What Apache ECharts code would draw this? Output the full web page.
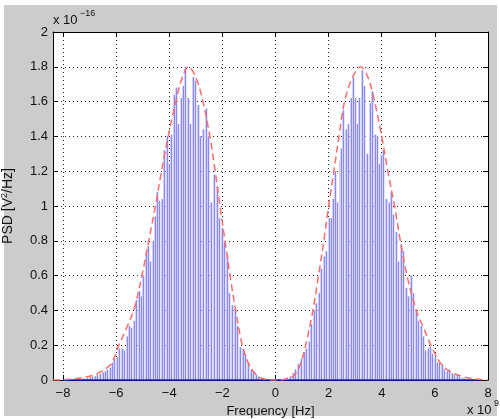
<!DOCTYPE html>
<html><head><meta charset="utf-8">
<script src="https://cdn.jsdelivr.net/npm/echarts@6/dist/echarts.min.js"></script>
<style>html,body{margin:0;padding:0;background:#fff}#c{width:500px;height:419px}</style>
</head><body><div id="c"></div>
<script>
// Frequency in units of 1e9 Hz, PSD in units of 1e-16 V^2/Hz
const stemFreq = [
 -8.0,-7.9,-7.8,-7.7,-7.6,-7.5,-7.4,-7.3,-7.2,-7.1,-7.0,-6.9,-6.8,-6.7,-6.6,-6.5,-6.42,
 -6.33,-6.24,-6.15,-6.06,-5.97,-5.88,-5.79,-5.70,-5.60,-5.51,-5.42,-5.34,-5.25,-5.15,-5.06,
 -4.97,-4.89,-4.80,-4.71,-4.62,-4.54,-4.46,-4.37,-4.28,-4.19,-4.10,-4.01,-3.92,-3.83,-3.74,
 -3.66,-3.57,-3.48,-3.39,-3.30,-3.21,-3.12,-3.03,-2.93,-2.84,-2.72,-2.62,-2.53,-2.41,-2.32,
 -2.21,-2.13,-2.03,-1.94,-1.84,-1.74,-1.63,-1.53,-1.44,-1.34,-1.24,-1.13,-1.03,-0.93,-0.84,
 -0.74,-0.65,-0.55,-0.46,-0.37,-0.28,-0.18,-0.09,0.00,
 0.09,0.18,0.27,0.35,0.45,0.54,0.66,0.75,0.85,0.95,1.06,1.16,1.25,1.35,1.45,1.54,1.64,1.73,
 1.82,1.91,2.00,2.08,2.16,2.25,2.33,2.41,2.48,2.56,2.64,2.73,2.83,2.91,3.00,3.08,3.16,3.25,
 3.35,3.44,3.54,3.63,3.73,3.81,3.89,3.98,4.06,4.16,4.26,4.35,4.44,4.54,4.63,4.73,4.81,4.92,
 5.00,5.10,5.19,5.28,5.37,5.46,5.55,5.64,5.73,5.83,5.91,6.00,6.08,6.17,6.25,6.35,6.45,6.54,
 6.63,6.73,6.83,6.92,7.02,7.11,7.20,7.30,7.40,7.50,7.60,7.70
];
const stemPsd = [
 0.002,0.002,0.003,0.003,0.004,0.005,0.006,0.007,0.009,0.012,0.016,0.02,0.022,0.03,0.035,0.045,0.05,
 0.06,0.07,0.10,0.12,0.13,0.18,0.18,0.17,0.25,0.31,0.30,0.34,0.46,0.51,0.48,
 0.60,0.74,0.77,0.68,0.80,0.94,1.08,1.03,1.04,1.32,1.40,1.24,1.41,1.64,1.68,
 1.47,1.62,1.69,1.80,1.62,1.47,1.74,1.72,1.58,1.40,1.44,1.56,1.40,1.02,1.18,
 1.11,0.93,0.87,0.79,0.72,0.50,0.43,0.41,0.31,0.19,0.18,0.15,0.10,0.06,0.05,
 0.03,0.02,0.01,0.006,0.004,0.003,0.002,0.002,0.002,
 0.002,0.003,0.005,0.01,0.015,0.02,0.04,0.06,0.09,0.12,0.16,0.18,0.22,0.32,0.40,0.44,0.50,0.64,
 0.71,0.74,0.93,0.93,1.04,1.20,1.02,1.26,1.33,1.55,1.44,1.47,1.62,1.74,1.62,1.47,1.62,1.78,
 1.69,1.30,1.59,1.66,1.41,1.40,1.24,1.29,1.32,1.04,1.02,1.08,0.95,0.85,0.68,0.78,0.74,0.53,
 0.48,0.60,0.50,0.40,0.34,0.31,0.25,0.17,0.18,0.19,0.15,0.13,0.10,0.10,0.09,0.06,0.05,0.06,
 0.04,0.03,0.03,0.02,0.012,0.01,0.008,0.006,0.005,0.004,0.003,0.002
];
const curveFreq = [
 -8.375,-8.0,-7.7,-7.4,-7.05,-6.8,-6.55,-6.3,-6.15,-5.9,-5.6,-5.3,-5.0,-4.77,-4.52,-4.29,-4.04,
 -3.75,-3.55,-3.28,-3.0,-2.73,-2.47,-2.27,-2.09,-1.9,-1.71,-1.5,-1.25,-1.03,-0.84,-0.6,-0.3,0,
 0.3,0.6,0.82,1.0,1.14,1.41,1.62,1.82,2.0,2.2,2.39,2.6,2.9,3.2,3.48,3.73,4.0,4.23,4.48,4.7,
 4.95,5.3,5.6,5.85,6.2,6.55,7.05,7.5,8.0
];
const curvePsd = [
 0,0.001,0.005,0.01,0.02,0.03,0.05,0.075,0.1,0.2,0.3,0.42,0.62,0.8,1.0,1.2,1.4,
 1.6,1.72,1.8,1.74,1.6,1.4,1.2,1.0,0.8,0.6,0.4,0.2,0.1,0.05,0.015,0.003,0,
 0.003,0.015,0.05,0.12,0.2,0.4,0.6,0.8,1.0,1.2,1.4,1.6,1.74,1.8,1.74,1.6,1.4,1.2,1.0,0.8,
 0.6,0.4,0.29,0.2,0.1,0.05,0.02,0.006,0
];
const xTickValues = [-8,-6,-4,-2,0,2,4,6,8];
const xMin = -8.375, xMax = 8;
const yMin = 0, yMax = 2, yStep = 0.2;

const stems = stemFreq.map((f,i)=>[f, stemPsd[i]]);
const curve = curveFreq.map((f,i)=>[f, curvePsd[i]]);
const baseline = [[stemFreq[0],0],[stemFreq[stemFreq.length-1],0]];

const FONT = 'Liberation Sans, Arial, Helvetica, sans-serif';
const chart = echarts.init(document.getElementById('c'), null, {renderer:'canvas'});
const grid = {left:53, top:32, right:12, bottom:39, show:true, backgroundColor:'#fff', borderWidth:0,
  containLabel:false, outerBoundsMode:'none'};
const dotted = {show:true, lineStyle:{color:'#222', type:[1,3], width:1}};
const fmtX = v => (v<0 ? '\u2212'+Math.abs(v) : String(v));

chart.setOption({
  animation:false,
  backgroundColor:'#fff',
  graphic:[
    {type:'rect', shape:{x:4,y:5,width:493,height:411}, style:{fill:'#cccccc'}, z:-10, silent:true},
    {type:'text', x:53, y:14, style:{text:'x 10', font:'13px '+FONT, fill:'#111'}},
    {type:'text', x:80, y:9, style:{text:'\u221216', font:'9px '+FONT, fill:'#111'}},
    {type:'text', x:467, y:404, style:{text:'x 10', font:'13px '+FONT, fill:'#111'}},
    {type:'text', x:494, y:399, style:{text:'9', font:'9px '+FONT, fill:'#111'}}
  ],
  grid:grid,
  xAxis:[
    {type:'value', min:xMin, max:xMax, position:'bottom',
     axisLine:{show:true, onZero:false, lineStyle:{color:'#000', width:1}},
     axisTick:{show:true, inside:true, length:5, customValues:xTickValues, lineStyle:{color:'#000'}},
     axisLabel:{show:true, customValues:xTickValues, formatter:fmtX, color:'#111', fontSize:13, fontFamily:FONT, margin:7},
     splitLine:dotted,
     name:'Frequency [Hz]', nameLocation:'middle', nameGap:19,
     nameTextStyle:{color:'#111', fontSize:13, fontFamily:FONT}},
    {type:'value', min:xMin, max:xMax, position:'top',
     axisLine:{show:true, onZero:false, lineStyle:{color:'#000', width:1}},
     axisTick:{show:true, inside:true, length:5, customValues:xTickValues, lineStyle:{color:'#000'}},
     axisLabel:{show:false}, splitLine:{show:false}}
  ],
  yAxis:[
    {type:'value', min:yMin, max:yMax, interval:yStep, position:'left',
     axisLine:{show:true, onZero:false, lineStyle:{color:'#000', width:1}},
     axisTick:{show:true, inside:true, length:5, lineStyle:{color:'#000'}},
     axisLabel:{color:'#111', fontSize:13, fontFamily:FONT, margin:5},
     splitLine:dotted,
     name:'{a|PSD [V}{s|2}{a|/Hz]}', nameLocation:'middle', nameGap:37, nameRotate:90,
     nameTextStyle:{rich:{a:{fontSize:14, fontFamily:FONT, color:'#111'}, s:{fontSize:9, fontFamily:FONT, color:'#111', verticalAlign:'top', padding:[0,0,7,0]}}}},
    {type:'value', min:yMin, max:yMax, interval:yStep, position:'right',
     axisLine:{show:true, onZero:false, lineStyle:{color:'#000', width:1}},
     axisTick:{show:true, inside:true, length:5, lineStyle:{color:'#000'}},
     axisLabel:{show:false}, splitLine:{show:false}}
  ],
  series:[
    {type:'custom', xAxisIndex:0, yAxisIndex:0, data:stems, z:3,
     encode:{x:0, y:1},
     renderItem:function(params, api){
       const top = api.coord([api.value(0), api.value(1)]);
       const bot = api.coord([api.value(0), 0]);
       const cx = Math.round(top[0]);
       return {type:'group', children:[
         {type:'rect', shape:{x:cx-1, y:top[1], width:2.6, height:bot[1]-top[1]}, style:{fill:'#d0d0f8'}},
         {type:'line', shape:{x1:cx+0.5, y1:top[1], x2:cx+0.5, y2:bot[1]}, style:{stroke:'#8a8af2', lineWidth:1}}
       ]};
     }},
    {type:'line', data:baseline, symbol:'none', z:4, lineStyle:{color:'#2020ee', width:1.5}},
    {type:'line', data:curve, symbol:'none', smooth:0.35, z:5,
     lineStyle:{color:'#ff6a6a', width:1.5, type:[7,4]}}
  ]
});
</script></body></html>
